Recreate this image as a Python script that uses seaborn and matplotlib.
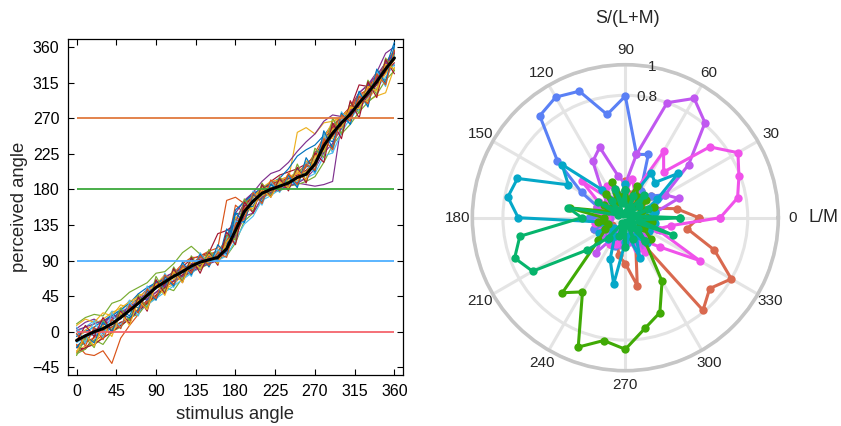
import numpy as np
import pandas as pd
import matplotlib
matplotlib.use("Agg")
import matplotlib.pyplot as plt
import seaborn as sns


# ---- left panel data: perceived vs stimulus angle ----
STIM = list(range(0, 361, 10))

MEAN = [-11, -5, 0, 4, 10, 18, 27, 36, 46, 56,
        63, 70, 76, 83, 88, 91, 94, 105, 128, 152,
        165, 175, 180, 184, 188, 195, 199, 212, 235, 251,
        264, 275, 289, 302, 316, 332, 346]

SA = [-4, 2, -2, 10, 22, 16, 35, 30, 52, 64,
      58, 74, 70, 90, 84, 96, 90, 118, 150, 148,
      172, 168, 186, 180, 194, 188, 210, 204, 246, 240,
      270, 268, 296, 292, 322, 318, 352]
SB = [-20, -14, 4, -2, 14, 28, 20, 44, 40, 62,
      56, 78, 70, 92, 82, 100, 88, 130, 118, 160,
      158, 184, 174, 192, 180, 206, 192, 228, 226, 262,
      256, 286, 280, 312, 306, 342, 336]
SC = [8, 16, 12, 24, 20, 34, 30, 48, 44, 60,
      72, 66, 84, 78, 96, 90, 100, 112, 145, 138,
      176, 170, 188, 182, 200, 190, 216, 208, 250, 244,
      276, 270, 300, 296, 330, 326, 358]
SD = [-28, -22, -10, -16, 0, 6, 18, 22, 36, 42,
      56, 52, 68, 76, 80, 86, 92, 96, 112, 140,
      150, 168, 176, 178, 184, 186, 190, 196, 214, 236,
      250, 262, 278, 290, 300, 318, 330]
SE = [-16, -28, -30, -24, -40, -8, 8, 22, 38, 46,
      62, 60, 72, 86, 90, 94, 96, 104, 160, 150,
      170, 180, 186, 192, 196, 200, 212, 216, 240, 258,
      266, 280, 292, 306, 320, 334, 344]
SF = [0, 6, 14, 10, 26, 24, 40, 36, 48, 54,
      66, 64, 80, 78, 94, 92, 98, 118, 132, 158,
      168, 172, 182, 186, 184, 194, 204, 218, 232, 256,
      268, 272, 290, 306, 314, 330, 348]
SG = [-24, -18, -16, -6, -2, 12, 14, 30, 32, 46,
      54, 60, 72, 74, 84, 90, 90, 110, 120, 146,
      160, 172, 176, 186, 192, 252, 258, 250, 264, 266,
      270, 276, 286, 292, 298, 302, 334]
SH = [4, 12, 16, 8, 22, 18, 34, 42, 54, 60,
      70, 74, 80, 86, 90, 96, 98, 114, 150, 166,
      176, 178, 180, 184, 190, 188, 186, 184, 186, 190,
      264, 278, 302, 312, 328, 352, 360]
SI = [10, 18, 22, 20, 36, 40, 50, 56, 62, 74,
      76, 86, 100, 108, 98, 96, 102, 116, 142, 162,
      172, 180, 182, 188, 190, 196, 202, 214, 228, 248,
      260, 272, 288, 300, 316, 336, 350]
SJ = [-14, -6, -4, 0, 4, 10, 16, 26, 34, 42,
      50, 58, 66, 74, 82, 88, 90, 96, 116, 136,
      146, 166, 172, 180, 184, 190, 194, 200, 222, 226,
      252, 270, 282, 296, 308, 322, 338]
SK = [-20, -22, -6, 2, 6, 12, 16, 28, 40, 50,
      60, 74, 82, 92, 96, 100, 124, 128, 136, 152,
      164, 178, 190, 198, 202, 206, 212, 222, 242, 258,
      272, 282, 312, 310, 322, 336, 354]
SL = [-6, 0, 6, 14, 20, 28, 36, 48, 56, 62,
      66, 72, 76, 80, 86, 88, 92, 106, 154, 164,
      174, 182, 188, 194, 206, 222, 230, 236, 248, 262,
      270, 276, 290, 300, 316, 334, 366]
SM = [-18, -10, -12, -4, 6, 8, 18, 26, 38, 46,
      56, 64, 70, 84, 96, 102, 106, 166, 170, 162,
      170, 176, 182, 182, 188, 194, 198, 210, 238, 256,
      270, 282, 296, 308, 322, 340, 356]
SN = [-10, 2, 10, 16, 24, 30, 38, 44, 52, 60,
      64, 70, 80, 82, 86, 88, 96, 102, 120, 152,
      170, 182, 190, 192, 196, 200, 202, 216, 244, 266,
      272, 282, 286, 294, 308, 326, 344]
SO = [-12, -8, 2, 8, 16, 22, 30, 40, 50, 58,
      68, 76, 78, 86, 92, 92, 96, 112, 138, 164,
      176, 190, 200, 204, 214, 228, 240, 250, 266, 274,
      272, 284, 302, 312, 324, 340, 352]
SP = [-18, -12, -8, 2, 10, 20, 28, 36, 46, 60,
      64, 74, 86, 94, 94, 98, 102, 114, 134, 156,
      166, 176, 178, 180, 186, 196, 208, 226, 246, 260,
      272, 284, 300, 306, 318, 330, 346]
SQ = [2, 6, 10, 14, 18, 24, 32, 38, 42, 50,
      58, 64, 70, 76, 82, 86, 90, 102, 122, 146,
      150, 170, 176, 180, 184, 188, 194, 206, 226, 238,
      258, 274, 286, 304, 320, 336, 354]
SR = [-26, -20, -16, -8, 0, 8, 16, 26, 36, 46,
      56, 64, 72, 78, 84, 88, 92, 104, 128, 158,
      172, 182, 186, 190, 194, 198, 204, 212, 232, 248,
      260, 272, 284, 298, 312, 328, 340]
ST = [-30, -8, -20, 14, 2, 30, 14, 46, 30, 70,
      50, 82, 64, 96, 78, 104, 86, 122, 116, 168,
      152, 188, 172, 196, 180, 212, 190, 232, 220, 270,
      250, 290, 276, 318, 300, 346, 330]
SU = [6, -14, 14, -8, 24, 4, 38, 20, 58, 40,
      74, 56, 86, 70, 100, 82, 104, 96, 140, 138,
      178, 160, 190, 176, 198, 184, 214, 200, 250, 226,
      278, 262, 302, 286, 330, 310, 360]
SV = [-12, 8, -6, 18, 0, 26, 10, 44, 26, 66,
      48, 80, 62, 94, 74, 100, 84, 126, 110, 164,
      150, 186, 170, 194, 178, 208, 188, 226, 214, 264,
      244, 292, 270, 316, 296, 344, 326]
SW = [-20, -6, -14, 12, 0, 22, 18, 28, 52, 40,
      70, 58, 88, 72, 98, 82, 110, 98, 150, 138,
      174, 164, 186, 178, 198, 182, 220, 202, 254, 232,
      276, 262, 304, 284, 332, 314, 362]
SX = [-2, -18, 6, -10, 16, 4, 34, 24, 54, 42,
      72, 60, 84, 74, 96, 84, 100, 94, 136, 142,
      176, 162, 192, 178, 200, 186, 212, 204, 244, 230,
      274, 266, 298, 288, 326, 312, 356]
SY = [-26, -4, -18, 8, -6, 24, 8, 40, 28, 60,
      46, 76, 62, 90, 80, 98, 86, 114, 124, 154,
      156, 180, 170, 190, 182, 204, 192, 222, 228, 256,
      258, 284, 282, 310, 304, 338, 332]

# order matters: colours cycle through the MATLAB default order
SUBJECTS = [SA, SE, SG, SH, SI, SF, SK, SB, SM, SC, SO, SD, SJ, SR,
            SL, SP, SN, SQ, ST, SU, SV, SW, SX, SY]
MATLAB_COLORS = ['#0072BD', '#D95319', '#EDB120', '#7E2F8E',
                 '#77AC30', '#4DBEEE', '#A2142F']

REF_LEVELS = [0, 90, 180, 270]
REF_COLORS = ['#f4646c', '#4eb0ff', '#3aa83a', '#e07a3e']

# ---- right panel data: polar tuning curves ----
POLAR_ANGLES = list(range(0, 361, 10))

R_RED = [0.48, 0.34, 0.18, 0.12, 0.22, 0.14, 0.20, 0.10, 0.16, 0.24,
         0.12, 0.18, 0.10, 0.22, 0.14, 0.12, 0.20, 0.10, 0.16, 0.12,
         0.22, 0.10, 0.18, 0.14, 0.20, 0.15, 0.25, 0.30, 0.45, 0.20,
         0.14, 0.79, 0.72, 0.80, 0.62, 0.41, 0.48]
R_OLIVE = [0.14, 0.10, 0.20, 0.12, 0.18, 0.10, 0.16, 0.22, 0.12, 0.18,
           0.14, 0.25, 0.12, 0.20, 0.10, 0.16, 0.12, 0.37, 0.14, 0.18,
           0.12, 0.15, 0.23, 0.64, 0.56, 0.90, 0.815, 0.86, 0.735, 0.66,
           0.48, 0.20, 0.22, 0.14, 0.10, 0.18, 0.14]
R_CYAN = [0.12, 0.20, 0.14, 0.24, 0.45, 0.30, 0.34, 0.16, 0.10, 0.22,
          0.14, 0.18, 0.12, 0.24, 0.54, 0.43, 0.75, 0.78, 0.70, 0.16,
          0.12, 0.20, 0.10, 0.18, 0.14, 0.29, 0.44, 0.16, 0.12, 0.28,
          0.14, 0.22, 0.10, 0.18, 0.12, 0.20, 0.12]
R_BLUE = [0.16, 0.10, 0.20, 0.30, 0.22, 0.14, 0.20, 0.44, 0.42, 0.795,
          0.685, 0.88, 0.91, 0.87, 0.58, 0.33, 0.18, 0.12, 0.24, 0.14,
          0.22, 0.12, 0.18, 0.10, 0.16, 0.20, 0.12, 0.18, 0.14, 0.10,
          0.16, 0.20, 0.12, 0.18, 0.22, 0.14, 0.16]
R_VIOLET = [0.18, 0.20, 0.37, 0.30, 0.54, 0.81, 0.90, 0.80, 0.42, 0.22,
            0.28, 0.49, 0.425, 0.24, 0.16, 0.12, 0.20, 0.14, 0.10, 0.18,
            0.12, 0.16, 0.20, 0.30, 0.14, 0.10, 0.18, 0.12, 0.16, 0.20,
            0.22, 0.12, 0.18, 0.14, 0.24, 0.12, 0.18]
R_PINK = [0.62, 0.745, 0.79, 0.85, 0.72, 0.39, 0.50, 0.18, 0.26, 0.16,
          0.12, 0.20, 0.24, 0.16, 0.37, 0.20, 0.14, 0.18, 0.12, 0.20,
          0.14, 0.18, 0.10, 0.16, 0.20, 0.18, 0.12, 0.16, 0.14, 0.22,
          0.26, 0.20, 0.30, 0.56, 0.22, 0.30, 0.62]
R_TEAL = [0.36, 0.06, 0.16, 0.03, 0.12, 0.19, 0.07, 0.15, 0.04, 0.18,
          0.10, 0.20, 0.03, 0.14, 0.08, 0.21, 0.05, 0.38, 0.285, 0.70,
          0.77, 0.70, 0.33, 0.17, 0.04, 0.13, 0.08, 0.19, 0.03, 0.15,
          0.07, 0.20, 0.11, 0.04, 0.33, 0.09, 0.36]

# drawn in this order, last one on top
POLAR_R = [R_RED, R_BLUE, R_VIOLET, R_PINK, R_CYAN, R_OLIVE, R_TEAL]
POLAR_COLORS = ['#d9694f', '#5a80f5', '#c058f0', '#f052ea', '#05a8c8',
                '#40aa05', '#06b46c']

THETA_TICKS = list(range(0, 360, 30))
R_LABELS = ['0.8', '1']
R_LABEL_POS = [0.8, 1.0]


sns.set_style("ticks")
plt.rcParams['font.family'] = ['Liberation Sans', 'DejaVu Sans']

fig = plt.figure(figsize=(8.41, 4.26), dpi=100)

#### Left panel

ax = fig.add_axes([0.0805, 0.119, 0.399, 0.7895])

for i, subj in enumerate(SUBJECTS):
    sns.lineplot(x=STIM, y=subj, color=MATLAB_COLORS[i % len(MATLAB_COLORS)],
                 lw=0.85, sort=False, ax=ax, zorder=2)

for level, col in zip(REF_LEVELS, REF_COLORS):
    ax.hlines(level, STIM[0], STIM[-1], color=col, lw=1.3, zorder=3)

sns.lineplot(x=STIM, y=MEAN, color='black', lw=2.2, ax=ax, zorder=4)

ax.set_xlim(-10, 370)
ax.set_ylim(-55, 370)
ax.set_xticks(range(0, 361, 45))
ax.set_yticks(range(-45, 361, 45))
ax.tick_params(direction='in', top=True, right=True, length=4, width=0.8,
               labelsize=11.5, colors='black', pad=6)
for sp in ax.spines.values():
    sp.set_linewidth(0.9)
    sp.set_color('black')
ax.set_xlabel('stimulus angle', fontsize=13.3, labelpad=5)
ax.set_ylabel('perceived angle', fontsize=13.3, labelpad=3)

#### Right panel (polar)

axp = fig.add_axes([0.5616, 0.1298, 0.3639, 0.7183], projection='polar')

for k, (rvals, col) in enumerate(zip(POLAR_R, POLAR_COLORS)):
    sns.lineplot(x=np.deg2rad(POLAR_ANGLES), y=rvals, color=col, sort=False,
                 marker='o', markersize=6, markeredgewidth=0, lw=2.2,
                 ax=axp, zorder=3 + k)

axp.set_ylim(0, 1)
axp.set_rticks(R_LABEL_POS)
axp.set_yticklabels([])
for lab, rv in zip(R_LABELS, R_LABEL_POS):
    axp.text(np.deg2rad(80), rv, lab, ha='center', va='center', fontsize=11, zorder=20)
axp.set_thetagrids(THETA_TICKS, [str(t) for t in THETA_TICKS])
axp.tick_params(axis='x', pad=0, labelsize=11)
axp.grid(True, color='#e4e4e4', lw=2.2)
axp.spines['polar'].set_color('#c6c6c6')
axp.spines['polar'].set_linewidth(2.6)
axp.set_xlabel('')
axp.set_ylabel('')

fig.text(627.7 / 841, 1 - 18.3 / 426, 'S/(L+M)', ha='center', va='center', fontsize=13)
fig.text(824 / 841, 1 - 218 / 426, 'L/M', ha='center', va='center', fontsize=13)

fig.savefig('out.png', dpi=100)
